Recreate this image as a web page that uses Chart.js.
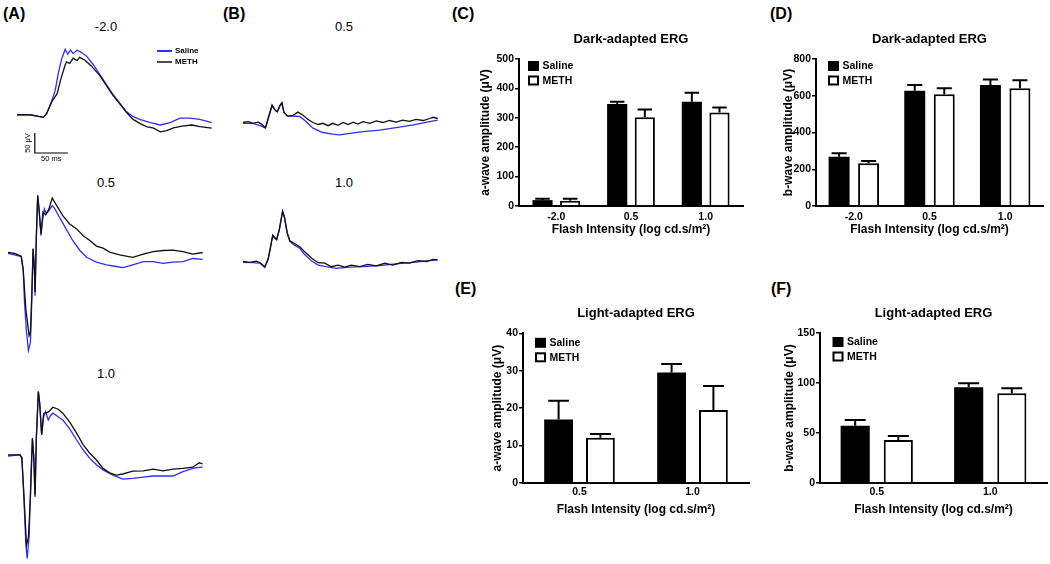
<!DOCTYPE html>
<html>
<head>
<meta charset="utf-8">
<script src="https://cdn.jsdelivr.net/npm/chart.js@4.4.0/dist/chart.umd.min.js"></script>
<style>
  body { margin: 0; background: #fff; }
  #fig { position: relative; width: 1050px; height: 564px; overflow: hidden; font-family: "Liberation Sans", Arial, sans-serif; color: #000; }
  #fig canvas { position: absolute; }
  .panel { position: absolute; font-weight: bold; font-size: 16px; line-height: 16px; transform: translateY(-50%); }
  .sub { position: absolute; font-size: 13px; line-height: 13px; transform: translate(-50%, -50%); }
</style>
</head>
<body>
<div id="fig">
  <div class="panel" style="left:3px;top:14px">(A)</div>
  <div class="panel" style="left:223px;top:14px">(B)</div>
  <div class="panel" style="left:452px;top:14px">(C)</div>
  <div class="panel" style="left:770px;top:14px">(D)</div>
  <div class="panel" style="left:455px;top:289px">(E)</div>
  <div class="panel" style="left:771px;top:289px">(F)</div>

  <div class="sub" style="left:106px;top:26px">-2.0</div>
  <div class="sub" style="left:106px;top:182px">0.5</div>
  <div class="sub" style="left:106px;top:373px">1.0</div>
  <div class="sub" style="left:344px;top:26px">0.5</div>
  <div class="sub" style="left:344px;top:182px">1.0</div>

  <canvas id="a1" width="198" height="130" style="left:17px;top:38px"></canvas>
  <canvas id="a2" width="198" height="175" style="left:8px;top:185px"></canvas>
  <canvas id="a3" width="198" height="179" style="left:8px;top:385px"></canvas>
  <canvas id="b1" width="198" height="70" style="left:243px;top:80px"></canvas>
  <canvas id="b2" width="198" height="80" style="left:243px;top:200px"></canvas>

  <canvas id="c" width="286" height="240" style="left:465px;top:20px"></canvas>
  <canvas id="d" width="284" height="240" style="left:765px;top:20px"></canvas>
  <canvas id="e" width="292" height="250" style="left:465px;top:290px"></canvas>
  <canvas id="f" width="282" height="250" style="left:768px;top:290px"></canvas>
</div>

<script>
const FONT = '"Liberation Sans", Arial, sans-serif';
const MS_PER_PX = 50 / 33;   // from the 50 ms scale bar
const UV_PER_PX = 50 / 20;   // from the 50 uV scale bar
const BLUE = '#2f2ff2';

// ---- ERG traces (time in ms, amplitude in uV) ----
// (A) dark-adapted, -2.0
const aNeg2SalineT = [0, 20, 40, 45, 53, 58, 63, 68, 73, 77, 81, 85, 91, 98, 106, 116, 126, 136, 146, 156, 166, 176, 186, 202, 217, 232, 247, 262, 277, 295];
const aNeg2SalineV = [0, 0, -6, 4, 37, 62, 108, 142, 164, 152, 162, 154, 162, 156, 146, 125, 100, 75, 50, 29, 8, -4, -11, -19, -25, -19, -8, -8, -11, -19];
const aNeg2MethT = [0, 20, 40, 45, 53, 61, 66, 73, 75, 80, 85, 91, 95, 103, 113, 126, 136, 146, 156, 166, 176, 186, 196, 207, 217, 227, 237, 250, 265, 277, 295];
const aNeg2MethV = [1, 1, -6, 4, 34, 54, 88, 125, 133, 129, 142, 136, 144, 137, 122, 97, 72, 48, 27, 6, -11, -21, -29, -33, -42, -39, -32, -28, -25, -29, -33];
// (A) dark-adapted, 0.5
const a05SalineT = [0, 10, 20, 23, 25, 28, 31, 34, 36, 38, 40, 41, 43, 45, 47, 50, 52, 55, 58, 62, 67, 71, 78, 88, 98, 109, 119, 134, 149, 164, 174, 189, 205, 220, 235, 250, 265, 280, 295];
const a05SalineV = [0, -4, -8, -40, -122, -197, -243, -222, -122, 11, -40, -106, 44, 146, 111, 44, 78, 111, 99, 107, 119, 111, 90, 61, 32, 7, -10, -22, -29, -33, -36, -29, -21, -21, -25, -22, -21, -13, -15];
const a05MethT = [0, 10, 20, 23, 27, 32, 34, 36, 38, 40, 41, 43, 45, 47, 50, 53, 57, 62, 67, 72, 83, 93, 104, 114, 124, 134, 144, 154, 169, 189, 205, 220, 235, 250, 265, 280, 295];
const a05MethV = [2, 0, -7, -40, -139, -206, -197, -106, 12, -40, -97, 44, 143, 111, 49, 103, 96, 111, 138, 124, 94, 74, 61, 44, 32, 18, 13, 3, -4, -10, -2, 4, 7, 8, 4, -2, 2];
// (A) dark-adapted, 1.0
const a10SalineT = [0, 18, 21, 24, 27, 29, 32, 35, 37, 39, 41, 43, 46, 48, 51, 54, 57, 61, 64, 68, 76, 83, 93, 104, 114, 124, 134, 144, 159, 174, 189, 205, 220, 235, 250, 265, 280, 295];
const a10SalineV = [0, 3, -6, -102, -218, -256, -202, -35, 44, -2, -97, 48, 161, 132, 53, 98, 111, 90, 100, 107, 98, 90, 69, 40, 15, -6, -22, -35, -48, -58, -56, -53, -50, -50, -50, -39, -31, -27];
const a10MethT = [0, 18, 21, 24, 28, 31, 34, 37, 39, 41, 43, 46, 48, 51, 54, 58, 62, 68, 76, 83, 93, 104, 114, 124, 134, 144, 154, 164, 174, 189, 205, 220, 235, 250, 265, 280, 290, 295];
const a10MethV = [3, 3, -3, -93, -223, -202, -102, 44, -2, -102, 48, 161, 132, 53, 107, 108, 111, 122, 117, 107, 86, 57, 28, 7, -10, -31, -42, -48, -45, -38, -37, -33, -37, -33, -31, -28, -17, -20];
// (B) light-adapted, 0.5
const b05SalineT = [0, 15, 28, 34, 39, 44, 49, 52, 56, 59, 62, 67, 76, 86, 96, 106, 121, 136, 146, 162, 182, 207, 232, 258, 283, 295];
const b05SalineV = [0, 0, -7, -12, 15, 43, 33, 29, 43, 50, 27, 18, 18, 17, 4, -12, -23, -27, -29, -25, -21, -17, -11, -4, 4, 8];
const b05MethT = [0, 8, 15, 23, 28, 34, 39, 44, 49, 52, 56, 59, 62, 68, 76, 83, 91, 98, 106, 114, 121, 129, 136, 144, 152, 159, 167, 174, 182, 192, 202, 212, 222, 232, 242, 252, 262, 273, 283, 288, 295];
const b05MethV = [2, 4, 0, 3, -2, -11, 18, 46, 32, 29, 45, 52, 28, 18, 20, 28, 20, 10, 2, -3, 0, -6, 0, -5, 2, -3, 3, -2, 4, 0, 6, 2, 7, 3, 8, 5, 10, 7, 12, 15, 12];
// (B) light-adapted, 1.0
const b10SalineT = [0, 15, 25, 33, 38, 42, 45, 48, 51, 55, 60, 63, 67, 71, 78, 86, 93, 104, 114, 126, 141, 162, 182, 207, 232, 258, 283, 295];
const b10SalineV = [0, -1, -2, -13, 6, 39, 66, 60, 56, 81, 127, 110, 72, 52, 43, 35, 20, 3, -7, -11, -15, -12, -11, -8, -4, 0, 4, 6];
const b10MethT = [0, 10, 20, 26, 33, 38, 42, 45, 48, 51, 55, 60, 63, 67, 71, 78, 86, 93, 104, 114, 124, 134, 144, 154, 164, 177, 189, 202, 215, 227, 240, 252, 265, 278, 288, 295];
const b10MethV = [2, 0, 3, -1, -11, 8, 41, 68, 62, 57, 82, 128, 112, 74, 54, 47, 39, 27, 10, -1, -2, -11, -7, -12, -7, -11, -5, -9, -2, -7, 0, -2, 4, 2, 7, 6];

const scaleBarMs = 50;
const scaleBarUv = 50;

// ---- bar charts (mean, SEM) ----
const darkLabels = ['-2.0', '0.5', '1.0'];
const lightLabels = ['0.5', '1.0'];

const cSaline = [20, 347, 355];
const cSalineErr = [5, 8, 30];
const cMeth = [18, 302, 318];
const cMethErr = [7, 26, 17];

const dSaline = [268, 627, 658];
const dSalineErr = [19, 31, 31];
const dMeth = [232, 608, 641];
const dMethErr = [13, 33, 43];

const eSaline = [17.0, 29.5];
const eSalineErr = [5.0, 2.3];
const eMeth = [12.1, 19.5];
const eMethErr = [1.0, 6.4];

const fSaline = [57.3, 95.7];
const fSalineErr = [5.7, 4.0];
const fMeth = [43.0, 89.7];
const fMethErr = [4.0, 5.0];

Chart.defaults.font.family = FONT;
Chart.defaults.color = '#000';

function pts(t, v) {
  return t.map((x, i) => ({x: x, y: v[i]}));
}

// legend with line samples (panel A)
const lineLegend = {
  id: 'lineLegend',
  afterDraw(chart, args, opts) {
    if (!opts.show) return;
    const ctx = chart.ctx;
    const a = chart.chartArea;
    ctx.save();
    ctx.font = 'bold 8px ' + FONT;
    ctx.textBaseline = 'middle';
    chart.data.datasets.forEach((ds, i) => {
      const x = a.left + opts.x;
      const y = a.top + opts.y + i * 11;
      ctx.strokeStyle = ds.borderColor;
      ctx.lineWidth = i === 0 ? 2 : 1.5;
      ctx.beginPath();
      ctx.moveTo(x, y);
      ctx.lineTo(x + 15, y);
      ctx.stroke();
      ctx.fillStyle = '#000';
      ctx.fillText(ds.label, x + 18, y);
    });
    ctx.restore();
  }
};

// 50 uV / 50 ms scale bar, drawn through the chart scales
const scaleBar = {
  id: 'scaleBar',
  afterDraw(chart, args, opts) {
    if (!opts.show) return;
    const ctx = chart.ctx;
    const xs = chart.scales.x, ys = chart.scales.y;
    const x0 = xs.getPixelForValue(opts.t0);
    const x1 = xs.getPixelForValue(opts.t0 + scaleBarMs);
    const y0 = ys.getPixelForValue(opts.v0);
    const y1 = ys.getPixelForValue(opts.v0 + scaleBarUv);
    ctx.save();
    ctx.strokeStyle = '#000';
    ctx.lineWidth = 1.2;
    ctx.beginPath();
    ctx.moveTo(x0, y1);
    ctx.lineTo(x0, y0);
    ctx.lineTo(x1, y0);
    ctx.stroke();
    ctx.fillStyle = '#000';
    ctx.font = '7.5px ' + FONT;
    ctx.textAlign = 'center';
    ctx.textBaseline = 'middle';
    ctx.fillText(scaleBarMs + ' ms', (x0 + x1) / 2, y0 + 5.5);
    ctx.translate(x0 - 6.5, (y0 + y1) / 2);
    ctx.rotate(-Math.PI / 2);
    ctx.fillText(scaleBarUv + ' \u03bcV', 0, 0);
    ctx.restore();
  }
};

function traceChart(id, baseY, top, salT, salV, methT, methV, extra) {
  const canvas = document.getElementById(id);
  const w = canvas.width, h = canvas.height;
  return new Chart(canvas, {
    type: 'line',
    data: {
      datasets: [
        {label: 'Saline', data: pts(salT, salV), borderColor: BLUE, borderWidth: 1.3, pointRadius: 0, tension: 0, order: 2},
        {label: 'METH', data: pts(methT, methV), borderColor: '#111', borderWidth: 1.3, pointRadius: 0, tension: 0, order: 1}
      ]
    },
    options: {
      responsive: false,
      animation: false,
      events: [],
      layout: {padding: 0},
      plugins: {
        legend: {display: false},
        tooltip: {enabled: false},
        lineLegend: extra ? extra.legend : {show: false},
        scaleBar: extra ? extra.bar : {show: false}
      },
      scales: {
        x: {type: 'linear', display: false, min: 0, max: w * MS_PER_PX},
        y: {display: false, min: (baseY - (top + h)) * UV_PER_PX, max: (baseY - top) * UV_PER_PX}
      }
    },
    plugins: [lineLegend, scaleBar]
  });
}

traceChart('a1', 115, 38, aNeg2SalineT, aNeg2SalineV, aNeg2MethT, aNeg2MethV, {
  legend: {show: true, x: 140, y: 13},
  bar: {show: true, t0: 27, v0: -95}
});
traceChart('a2', 253.3, 185, a05SalineT, a05SalineV, a05MethT, a05MethV);
traceChart('a3', 456, 385, a10SalineT, a10SalineV, a10MethT, a10MethV);
traceChart('b1', 123.3, 80, b05SalineT, b05SalineV, b05MethT, b05MethV);
traceChart('b2', 262.3, 200, b10SalineT, b10SalineV, b10MethT, b10MethV);

// SEM bars on top of each column
const errorBars = {
  id: 'errorBars',
  afterDatasetsDraw(chart) {
    const ctx = chart.ctx;
    const ys = chart.scales.y;
    chart.data.datasets.forEach((ds, i) => {
      chart.getDatasetMeta(i).data.forEach((bar, j) => {
        const top = ys.getPixelForValue(ds.data[j] + ds.errors[j]);
        const half = bar.width * 0.36;
        ctx.save();
        ctx.strokeStyle = '#000';
        ctx.lineWidth = 2;
        ctx.beginPath();
        ctx.moveTo(bar.x, bar.y);
        ctx.lineTo(bar.x, top);
        ctx.moveTo(bar.x - half, top);
        ctx.lineTo(bar.x + half, top);
        ctx.stroke();
        ctx.restore();
      });
    });
  }
};

// filled / open square legend inside the plot
const boxLegend = {
  id: 'boxLegend',
  afterDraw(chart, args, opts) {
    const ctx = chart.ctx;
    const a = chart.chartArea;
    ctx.save();
    ctx.font = 'bold 10.5px ' + FONT;
    ctx.textBaseline = 'middle';
    chart.data.datasets.forEach((ds, i) => {
      const x = a.left + opts.x;
      const y = a.top + opts.y + i * 14.5;
      ctx.fillStyle = ds.backgroundColor;
      ctx.fillRect(x, y, 11, 10);
      if (ds.borderWidth) {
        ctx.strokeStyle = ds.borderColor;
        ctx.lineWidth = 2;
        ctx.strokeRect(x + 1, y + 1, 9, 8);
      }
      ctx.fillStyle = '#000';
      ctx.fillText(ds.label, x + 14.5, y + 5.5);
    });
    ctx.restore();
  }
};

function barChart(id, c) {
  const tickFont = {family: FONT, size: 10.5, weight: 'bold'};
  const titleFont = {family: FONT, size: 12, weight: 'bold'};
  return new Chart(document.getElementById(id), {
    type: 'bar',
    data: {
      labels: c.labels,
      datasets: [
        {label: 'Saline', data: c.saline, errors: c.salineErr, backgroundColor: '#000', borderColor: '#000', borderWidth: 0,
         categoryPercentage: c.cat, barPercentage: c.bar},
        {label: 'METH', data: c.meth, errors: c.methErr, backgroundColor: '#fff', borderColor: '#000', borderWidth: 2,
         categoryPercentage: c.cat, barPercentage: c.bar}
      ]
    },
    options: {
      responsive: false,
      animation: false,
      events: [],
      layout: {padding: {left: 0, top: 0, bottom: 0, right: c.padRight}},
      plugins: {
        legend: {display: false},
        tooltip: {enabled: false},
        title: {display: true, text: c.title, fullSize: false, color: '#000',
                font: {family: FONT, size: 13, weight: 'bold'}, padding: {top: c.titleTop, bottom: c.titleBottom}},
        boxLegend: {x: c.legX, y: c.legY}
      },
      scales: {
        x: {
          grid: {display: false, drawTicks: false},
          border: {display: true, color: '#000', width: 2},
          ticks: {color: '#000', font: tickFont, padding: c.xTickPad},
          title: {display: true, text: 'Flash Intensity (log cd.s/m\u00b2)', color: '#000', font: titleFont,
                  padding: {top: 0, bottom: 22.8}},
          afterFit: s => { s.height = c.xHeight; }
        },
        y: {
          min: 0, max: c.max,
          ticks: {stepSize: c.step, color: '#000', font: tickFont, padding: 1},
          grid: {drawOnChartArea: false, drawTicks: true, tickLength: 4, color: '#000', lineWidth: 1.5},
          border: {display: true, color: '#000', width: 2},
          title: {display: true, text: c.yTitle, color: '#000', font: titleFont, padding: {top: c.yTitlePad, bottom: 0}},
          afterFit: s => { s.width = c.yWidth; }
        }
      }
    },
    plugins: [errorBars, boxLegend]
  });
}

barChart('c', {
  labels: darkLabels, saline: cSaline, salineErr: cSalineErr, meth: cMeth, methErr: cMethErr,
  title: 'Dark-adapted ERG', yTitle: 'a-wave amplitude (\u03bcV)', max: 500, step: 100,
  cat: 0.74, bar: 0.73, padRight: 8, yWidth: 54, xHeight: 54, titleTop: 11.2, titleBottom: 12.2,
  yTitlePad: 13.8, xTickPad: 5, legX: 9, legY: 2
});
barChart('d', {
  labels: darkLabels, saline: dSaline, salineErr: dSalineErr, meth: dMeth, methErr: dMethErr,
  title: 'Dark-adapted ERG', yTitle: 'b-wave amplitude (\u03bcV)', max: 800, step: 200,
  cat: 0.78, bar: 0.71, padRight: 6, yWidth: 51, xHeight: 54, titleTop: 11.2, titleBottom: 12.2,
  yTitlePad: 16.8, xTickPad: 5, legX: 12, legY: 2
});
barChart('e', {
  labels: lightLabels, saline: eSaline, salineErr: eSalineErr, meth: eMeth, methErr: eMethErr,
  title: 'Light-adapted ERG', yTitle: 'a-wave amplitude (\u03bcV)', max: 40, step: 10,
  cat: 0.74, bar: 0.69, padRight: 8, yWidth: 58, xHeight: 57, titleTop: 15.5, titleBottom: 12.2,
  yTitlePad: 25.8, xTickPad: 3, legX: 12, legY: 4.5
});
barChart('f', {
  labels: lightLabels, saline: fSaline, salineErr: fSalineErr, meth: fMeth, methErr: fMethErr,
  title: 'Light-adapted ERG', yTitle: 'b-wave amplitude (\u03bcV)', max: 150, step: 50,
  cat: 0.76, bar: 0.675, padRight: 3, yWidth: 52, xHeight: 57, titleTop: 15.5, titleBottom: 11.9,
  yTitlePad: 14.8, xTickPad: 3, legX: 12.5, legY: 4
});
</script>
</body>
</html>
